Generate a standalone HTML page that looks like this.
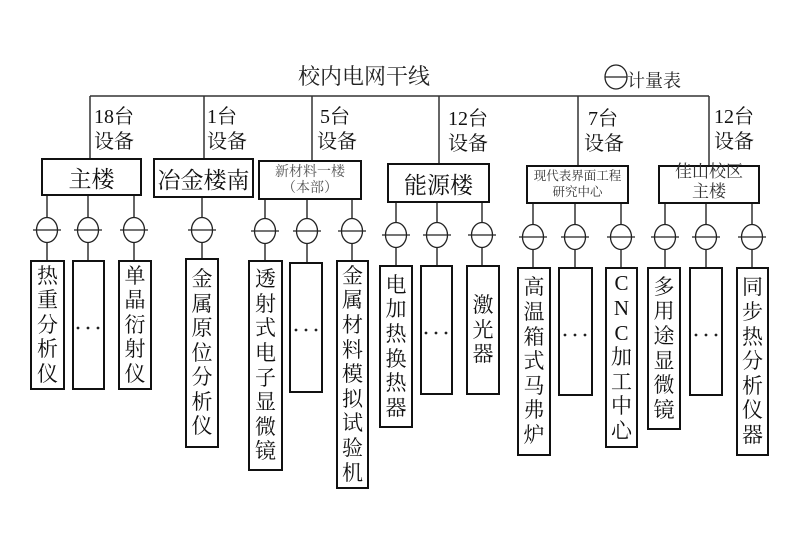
<!DOCTYPE html>
<html><head><meta charset="utf-8">
<style>
html,body{margin:0;padding:0;background:#fff;}
#c{position:relative;width:800px;height:550px;overflow:hidden;background:#fff;
font-family:"Liberation Serif","Noto Serif CJK SC",serif;color:#111;}
svg{position:absolute;left:0;top:0;}
.t{position:absolute;white-space:nowrap;line-height:1;}
.v{position:absolute;display:flex;align-items:center;justify-content:center;}
.v span{display:block;text-align:center;font-size:21px;line-height:24.6px;}
.b{position:absolute;display:flex;align-items:center;justify-content:center;text-align:center;white-space:nowrap;}
</style></head><body>
<div id="c">
<svg width="800" height="550" viewBox="0 0 800 550">
<g stroke="#333" stroke-width="1.5" fill="none">
<path d="M90 96H709"/>
<path d="M90 96V159M204 96V159M312 96V161M439 96V164M578 96V166M709 96V166"/>
<path d="M47 195V261M88 195V261M134 195V261"/>
<path d="M202 197V259"/>
<path d="M265 199V261M307 199V263M352 199V261"/>
<path d="M396 202V266M437 202V266M482 202V266"/>
<path d="M533 203V268M575 203V268M621 203V268"/>
<path d="M665 203V268M706 203V268M752 203V268"/>
</g>
<g stroke="#222" stroke-width="1.3" fill="#fff">
<ellipse cx="47" cy="230" rx="10.5" ry="12.5"/>
<ellipse cx="88" cy="230" rx="10.5" ry="12.5"/>
<ellipse cx="134" cy="230" rx="10.5" ry="12.5"/>
<ellipse cx="202" cy="230" rx="10.5" ry="12.5"/>
<ellipse cx="265" cy="231" rx="10.5" ry="12.5"/>
<ellipse cx="307" cy="231" rx="10.5" ry="12.5"/>
<ellipse cx="352" cy="231" rx="10.5" ry="12.5"/>
<ellipse cx="396" cy="235" rx="10.5" ry="12.5"/>
<ellipse cx="437" cy="235" rx="10.5" ry="12.5"/>
<ellipse cx="482" cy="235" rx="10.5" ry="12.5"/>
<ellipse cx="533" cy="237" rx="10.5" ry="12.5"/>
<ellipse cx="575" cy="237" rx="10.5" ry="12.5"/>
<ellipse cx="621" cy="237" rx="10.5" ry="12.5"/>
<ellipse cx="665" cy="237" rx="10.5" ry="12.5"/>
<ellipse cx="706" cy="237" rx="10.5" ry="12.5"/>
<ellipse cx="752" cy="237" rx="10.5" ry="12.5"/>
<ellipse cx="616" cy="77" rx="11" ry="12"/>
</g>
<g stroke="#222" stroke-width="1.3">
<path d="M33 230H61M74 230H102M120 230H148M188 230H216"/>
<path d="M251 231H279M293 231H321M338 231H366"/>
<path d="M382 235H410M423 235H451M468 235H496"/>
<path d="M519 237H547M561 237H589M607 237H635"/>
<path d="M651 237H679M692 237H720M738 237H766"/>
<path d="M605 77H627"/>
</g>
<g stroke="#111" stroke-width="2" fill="#fff">
<rect x="42" y="159" width="99" height="36"/>
<rect x="154" y="159" width="99" height="38"/>
<rect x="259" y="161" width="102" height="38"/>
<rect x="388" y="164" width="101" height="38"/>
<rect x="527" y="166" width="101" height="37"/>
<rect x="659" y="166" width="100" height="37"/>
</g>
<g stroke="#111" stroke-width="2" fill="#fff">
<rect x="31" y="261" width="33" height="128"/>
<rect x="73" y="261" width="31" height="128"/>
<rect x="119" y="261" width="32" height="128"/>
<rect x="186" y="259" width="32" height="188"/>
<rect x="249" y="261" width="33" height="209"/>
<rect x="290" y="263" width="32" height="129"/>
<rect x="337" y="261" width="31" height="227"/>
<rect x="380" y="266" width="32" height="161"/>
<rect x="421" y="266" width="31" height="128"/>
<rect x="467" y="266" width="32" height="128"/>
<rect x="518" y="268" width="32" height="187"/>
<rect x="559" y="268" width="33" height="127"/>
<rect x="606" y="268" width="31" height="179"/>
<rect x="648" y="268" width="32" height="161"/>
<rect x="690" y="268" width="32" height="127"/>
<rect x="737" y="268" width="31" height="187"/>
</g>
<g fill="#222">
<circle cx="78" cy="328" r="1.4"/><circle cx="88" cy="328" r="1.4"/><circle cx="98" cy="328" r="1.4"/>
<circle cx="296" cy="330" r="1.4"/><circle cx="306" cy="330" r="1.4"/><circle cx="316" cy="330" r="1.4"/>
<circle cx="426" cy="333" r="1.4"/><circle cx="436" cy="333" r="1.4"/><circle cx="446" cy="333" r="1.4"/>
<circle cx="565" cy="335" r="1.4"/><circle cx="575" cy="335" r="1.4"/><circle cx="585" cy="335" r="1.4"/>
<circle cx="696" cy="335" r="1.4"/><circle cx="706" cy="335" r="1.4"/><circle cx="716" cy="335" r="1.4"/>
</g>
</svg>

<div class="t" style="left:298px;top:66px;font-size:22px;color:#222;">校内电网干线</div>
<div class="t" style="left:627px;top:72px;font-size:18px;color:#222;">计量表</div>

<div class="t" style="left:94px;top:107px;font-size:20px;">18台</div>
<div class="t" style="left:94px;top:132px;font-size:20px;">设备</div>
<div class="t" style="left:207px;top:107px;font-size:20px;">1台</div>
<div class="t" style="left:207px;top:132px;font-size:20px;">设备</div>
<div class="t" style="left:320px;top:107px;font-size:20px;">5台</div>
<div class="t" style="left:317px;top:132px;font-size:20px;">设备</div>
<div class="t" style="left:448px;top:109px;font-size:20px;">12台</div>
<div class="t" style="left:448px;top:134px;font-size:20px;">设备</div>
<div class="t" style="left:588px;top:109px;font-size:20px;">7台</div>
<div class="t" style="left:584px;top:134px;font-size:20px;">设备</div>
<div class="t" style="left:714px;top:107px;font-size:20px;">12台</div>
<div class="t" style="left:714px;top:132px;font-size:20px;">设备</div>

<div class="b" style="left:42px;top:159px;width:99px;height:36px;font-size:23px;">主楼</div>
<div class="b" style="left:154px;top:159px;width:99px;height:38px;font-size:23px;">冶金楼南</div>
<div class="b" style="left:259px;top:163px;width:102px;height:36px;font-size:14px;line-height:16px;color:#555;">新材料一楼<br>（本部）</div>
<div class="b" style="left:388px;top:164px;width:101px;height:38px;font-size:23px;">能源楼</div>
<div class="b" style="left:527px;top:168px;width:101px;height:33px;font-size:12.5px;line-height:15.5px;color:#333;">现代表界面工程<br>研究中心</div>
<div class="b" style="left:659px;top:162px;width:100px;height:40px;font-size:17px;line-height:20px;color:#333;">佳山校区<br>主楼</div>

<div class="v" style="left:31px;top:261px;width:33px;height:128px;"><span>热<br>重<br>分<br>析<br>仪</span></div>
<div class="v" style="left:119px;top:261px;width:32px;height:128px;"><span>单<br>晶<br>衍<br>射<br>仪</span></div>
<div class="v" style="left:186px;top:259px;width:32px;height:188px;"><span>金<br>属<br>原<br>位<br>分<br>析<br>仪</span></div>
<div class="v" style="left:249px;top:261px;width:33px;height:209px;"><span>透<br>射<br>式<br>电<br>子<br>显<br>微<br>镜</span></div>
<div class="v" style="left:337px;top:261px;width:31px;height:227px;"><span>金<br>属<br>材<br>料<br>模<br>拟<br>试<br>验<br>机</span></div>
<div class="v" style="left:380px;top:266px;width:32px;height:161px;"><span>电<br>加<br>热<br>换<br>热<br>器</span></div>
<div class="v" style="left:467px;top:266px;width:32px;height:128px;"><span>激<br>光<br>器</span></div>
<div class="v" style="left:518px;top:268px;width:32px;height:187px;"><span>高<br>温<br>箱<br>式<br>马<br>弗<br>炉</span></div>
<div class="v" style="left:606px;top:268px;width:31px;height:179px;"><span>C<br>N<br>C<br>加<br>工<br>中<br>心</span></div>
<div class="v" style="left:648px;top:268px;width:32px;height:161px;"><span>多<br>用<br>途<br>显<br>微<br>镜</span></div>
<div class="v" style="left:737px;top:268px;width:31px;height:187px;"><span>同<br>步<br>热<br>分<br>析<br>仪<br>器</span></div>
</div>
</body></html>
